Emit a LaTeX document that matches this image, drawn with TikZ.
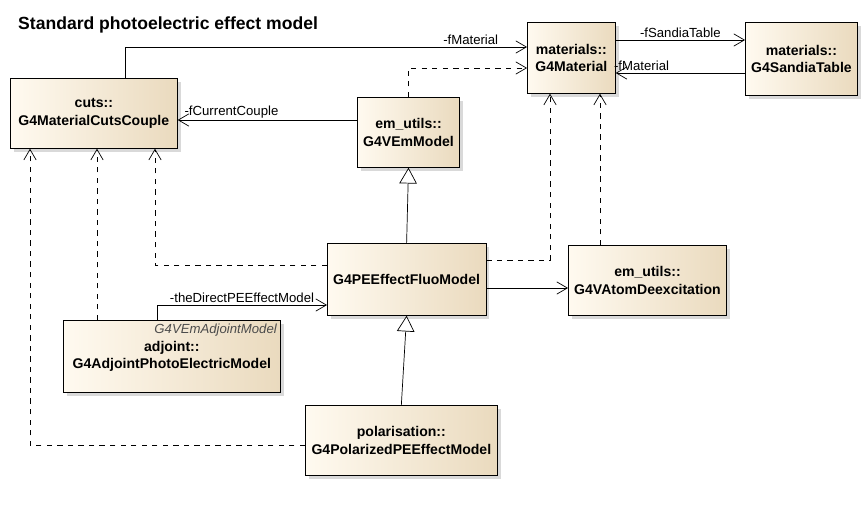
\documentclass[tikz,border=0pt]{standalone}
\usepackage{fontspec}
\setmainfont{Liberation Sans}
\usetikzlibrary{arrows.meta,shadows}
\definecolor{boxlight}{RGB}{255,250,240}
\definecolor{boxdark}{RGB}{234,218,190}
\tikzstyle{cls} = [draw, rectangle, anchor=north west, align=center, text centered, font=\fontsize{8}{10}\selectfont\bfseries, left color=boxlight, right color=boxdark, drop shadow={shadow xshift=2pt, shadow yshift=-2pt, opacity=0.3}]
\tikzstyle{assoc} = [draw, -{Straight Barb[length=6pt,width=7pt]}]
\tikzstyle{dep} = [draw, dashed, -{Straight Barb[length=6pt,width=7pt]}]
\tikzstyle{inh} = [draw, -{Triangle[open,length=9pt,width=10pt,fill=white]}]
\tikzstyle{lbl} = [font=\fontsize{7.5}{9}\selectfont, inner sep=1pt]
\begin{document}
\begin{tikzpicture}[x=0.02cm, y=-0.02cm]
        \useasboundingbox (0,0) rectangle (868,507);
        \node[anchor=west, font=\fontsize{10}{12}\selectfont\bfseries] (title) at (12,25) {Standard photoelectric effect model};
        \node[cls, minimum width=3.34cm, minimum height=1.4cm] (cuts) at (10,78) {cuts::\\G4MaterialCutsCouple};
        \node[cls, minimum width=1.76cm, minimum height=1.42cm] (mat) at (527,22) {materials::\\G4Material};
        \node[cls, minimum width=2.24cm, minimum height=1.46cm] (sandia) at (745,22) {materials::\\G4SandiaTable};
        \node[cls, minimum width=2cm, minimum height=1.4cm] (emmodel) at (357,97) {em\_utils::\\G4VEmModel};
        \node[cls, minimum width=3.16cm, minimum height=1.44cm] (fluo) at (327,243) {G4PEEffectFluoModel};
        \node[cls, minimum width=2.6cm, minimum height=1.4cm] (deex) at (568,245) {em\_utils::\\G4VAtomDeexcitation};
        \node[cls, minimum width=4.34cm, minimum height=1.44cm] (adjoint) at (63,320) {adjoint::\\G4AdjointPhotoElectricModel};
        \node[anchor=north east, font=\fontsize{7.5}{9}\selectfont\itshape, text=black!70, inner sep=2pt] (adjbase) at (adjoint.north east) {G4VEmAdjointModel};
        \node[cls, minimum width=3.84cm, minimum height=1.4cm] (polar) at (305,405) {polarisation::\\G4PolarizedPEEffectModel};
        % associations
        \path[assoc] (cuts.north -| 125,0) |- node[lbl, above, pos=0.93] {-fMaterial} (mat.west |- 0,47);
        \path[assoc] (mat.east |- 0,40) -- node[lbl, above, pos=0.5] {-fSandiaTable} (sandia.west |- 0,40);
        \path[assoc] (sandia.west |- 0,73) -- node[lbl, above, pos=0.8] {-fMaterial} (mat.east |- 0,73);
        \path[assoc] (emmodel.west |- 0,120) -- node[lbl, above, pos=0.7] {-fCurrentCouple} (cuts.east |- 0,120);
        \path[assoc] (fluo.east |- 0,288) -- (deex.west |- 0,288);
        \path[assoc] (adjoint.north -| 157,0) |- node[lbl, above, pos=0.75] {-theDirectPEEffectModel} (fluo.west |- 0,305);
        % dependencies
        \path[dep] (emmodel.north) |- (mat.west |- 0,68);
        \path[dep] (fluo.east |- 0,260) -| (mat.south -| 550,0);
        \path[dep] (fluo.west |- 0,265) -| (cuts.south -| 155,0);
        \path[dep] (adjoint.north -| 97,0) -- (cuts.south -| 97,0);
        \path[dep] (deex.north -| 600,0) -- (mat.south -| 600,0);
        \path[dep] (polar.west |- 0,445) -| (cuts.south -| 30,0);
        % generalisations
        \path[inh] (fluo.north) -- (emmodel.south);
        \path[inh] (polar.north) -- (fluo.south);
\end{tikzpicture}
\end{document}
